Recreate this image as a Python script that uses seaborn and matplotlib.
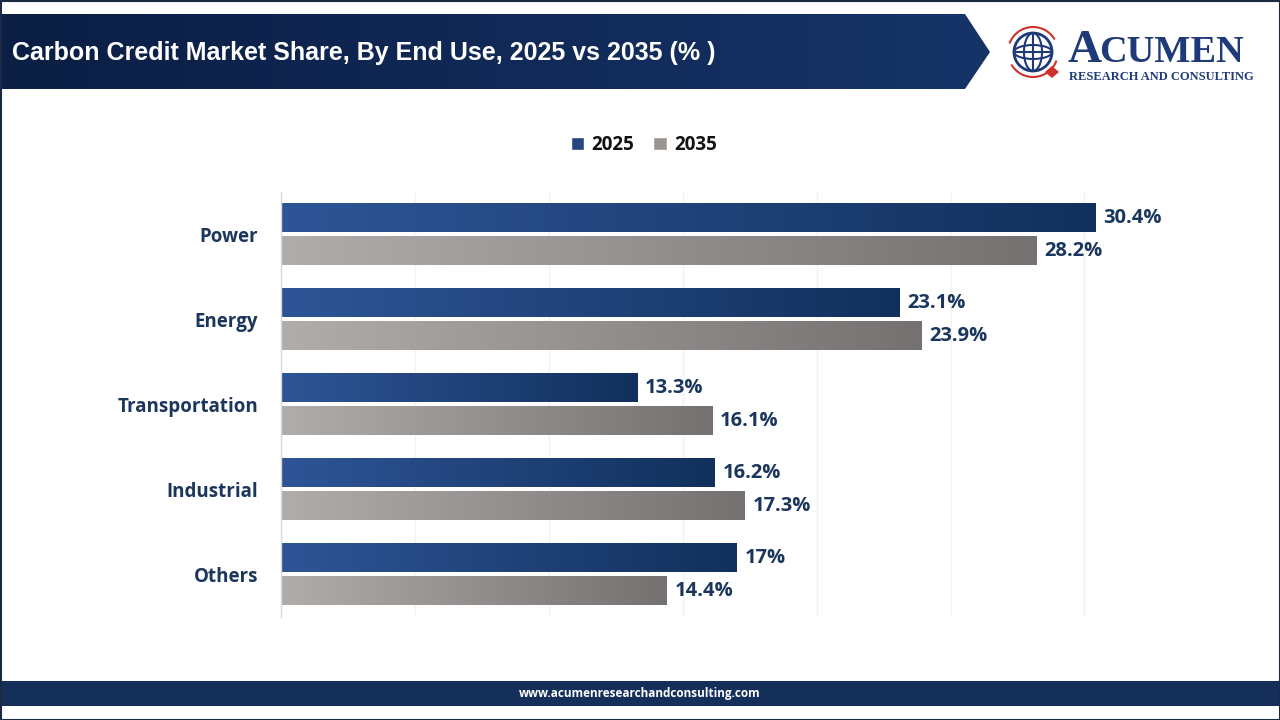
import numpy as np
import pandas as pd
import matplotlib
matplotlib.use("Agg")
import matplotlib.pyplot as plt
import seaborn as sns
from matplotlib.colors import LinearSegmentedColormap
from matplotlib.patches import Polygon, Rectangle, Circle, Arc, Ellipse

# data
categories = ["Power", "Energy", "Transportation", "Industrial", "Others"]
years = ["2025", "2035"]
share_2025 = [30.4, 23.1, 13.3, 16.2, 17]
share_2035 = [28.2, 23.9, 16.1, 17.3, 14.4]

title = "Carbon Credit Market Share, By End Use, 2025 vs 2035 (% )"
footer = "www.acumenresearchandconsulting.com"

NAVY = "#1b365d"
grad_colors = {
    "2025": ("#2f5597", "#11305c"),
    "2035": ("#b1adab", "#747170"),
}

df = pd.DataFrame({
    "category": categories * 2,
    "year": ["2025"] * len(categories) + ["2035"] * len(categories),
    "share": share_2025 + share_2035,
})

sns.set_theme(style="white")
plt.rcParams["font.family"] = ["Open Sans", "DejaVu Sans"]

fig = plt.figure(figsize=(12.8, 7.2), dpi=100)

# background / decoration layer in pixel coords
bg = fig.add_axes([0, 0, 1, 1], zorder=0)
bg.set_xlim(0, 1280)
bg.set_ylim(720, 0)
bg.axis("off")

# header banner with arrow tip
banner = Polygon([(0, 14), (965, 14), (990, 52), (965, 89), (0, 89)],
                 closed=True, facecolor="none", edgecolor="none")
bg.add_patch(banner)
hgrad = np.linspace(0, 1, 256).reshape(1, -1)
hcmap = LinearSegmentedColormap.from_list("hdr", ["#0b1e44", "#163468"])
im = bg.imshow(hgrad, extent=[0, 990, 89, 14], aspect="auto", cmap=hcmap, zorder=1)
im.set_clip_path(banner)
bg.text(12, 53, title, color="white", fontsize=18, fontweight="bold",
        family=["Liberation Sans", "DejaVu Sans"], va="center", ha="left", zorder=2)

# logo
bg.add_patch(Circle((1033, 52), 19, facecolor="white", edgecolor="#1e3a78", lw=2, zorder=2))
bg.add_patch(Ellipse((1033, 52), 18, 38, facecolor="none", edgecolor="#1e3a78", lw=1.5, zorder=2))
bg.add_patch(Ellipse((1033, 52), 38, 14, facecolor="none", edgecolor="#1e3a78", lw=1.5, zorder=2))
bg.plot([1014, 1052], [52, 52], color="#1e3a78", lw=1.5, zorder=2)
bg.plot([1033, 1033], [33, 71], color="#1e3a78", lw=1.5, zorder=2)
bg.add_patch(Arc((1033, 52), 50, 50, theta1=200, theta2=330, color="#d0312d", lw=1.5, zorder=2))
bg.add_patch(Arc((1033, 52), 50, 50, theta1=20, theta2=150, color="#d0312d", lw=1.5, zorder=2))
bg.add_patch(Polygon([(1052, 66), (1059, 72), (1052, 78), (1045, 72)], closed=True,
                     facecolor="#d0312d", edgecolor="none", zorder=3))
bg.text(1067, 62, "A", color="#1e3a78", fontsize=34, family=["Liberation Serif"],
        fontweight="bold", va="baseline", ha="left", zorder=2)
bg.text(1099, 62, "CUMEN", color="#1e3a78", fontsize=27.5, family=["Liberation Serif"],
        fontweight="bold", va="baseline", ha="left", zorder=2)
bg.text(1161, 77, "RESEARCH AND CONSULTING", color="#1e3a78", fontsize=9,
        family=["Liberation Serif"], fontweight="bold", va="center", ha="center", zorder=2)

# footer band
bg.add_patch(Rectangle((0, 681), 1280, 25, facecolor="#14305a", edgecolor="none", zorder=1))
bg.text(640, 693.5, footer, color="white", fontsize=8.5, fontweight="bold",
        va="center", ha="center", zorder=2)

# outer frame
bg.add_patch(Rectangle((0.5, 0.5), 1279, 719, facecolor="none", edgecolor="#1b2a44", lw=1.5, zorder=3))

# chart
ax = fig.add_axes([281 / 1280, 1 - 617 / 720, (32 * 26.78) / 1280, 425 / 720], zorder=1)
ax.patch.set_alpha(0)
sns.barplot(data=df, x="share", y="category", hue="year", hue_order=years,
            order=categories, orient="h", width=0.776, gap=0.15,
            palette=[grad_colors[y][1] for y in years], legend=False, ax=ax)

g = np.linspace(0, 1, 256).reshape(1, -1)
for year, container in zip(years, ax.containers):
    cmap = LinearSegmentedColormap.from_list("g" + year, list(grad_colors[year]))
    for bar in container:
        x0, y0 = bar.get_x(), bar.get_y()
        w, h = bar.get_width(), bar.get_height()
        bar.set_visible(False)
        ax.imshow(g, extent=[x0, x0 + w, y0 + h, y0], aspect="auto", cmap=cmap, zorder=2)
        ax.text(x0 + w + 0.3, y0 + h / 2, f"{w:g}%", color=NAVY, fontsize=14.5,
                fontweight="bold", va="center", ha="left", zorder=3)

ax.set_xlim(0, 32)
ax.set_ylim(4.5, -0.5)
ax.set_xticks(np.arange(0, 31, 5))
ax.set_xticklabels([])
ax.xaxis.grid(True, color="#f2f2f2", lw=1)
ax.set_axisbelow(True)
ax.tick_params(axis="both", length=0)
ax.tick_params(axis="y", pad=16.5)
for lbl in ax.get_yticklabels():
    lbl.set_color(NAVY)
    lbl.set_fontweight("bold")
    lbl.set_fontsize(13.5)
ax.set_xlabel("")
ax.set_ylabel("")
for side in ["top", "right", "bottom"]:
    ax.spines[side].set_visible(False)
ax.spines["left"].set_color("#d9d9d9")
ax.spines["left"].set_linewidth(1)

# legend
handles = [Rectangle((0, 0), 1, 1, facecolor=c) for c in ["#24477f", "#9a9694"]]
fig.legend(handles, years, loc="center", bbox_to_anchor=(644 / 1280, 1 - 145 / 720),
           ncol=2, frameon=False, handlelength=0.7, handleheight=0.7,
           handletextpad=0.4, columnspacing=1.0, labelcolor="#111111",
           prop={"weight": "bold", "size": 13.5, "family": ["Open Sans", "DejaVu Sans"]})

fig.savefig("out.png", dpi=100)
